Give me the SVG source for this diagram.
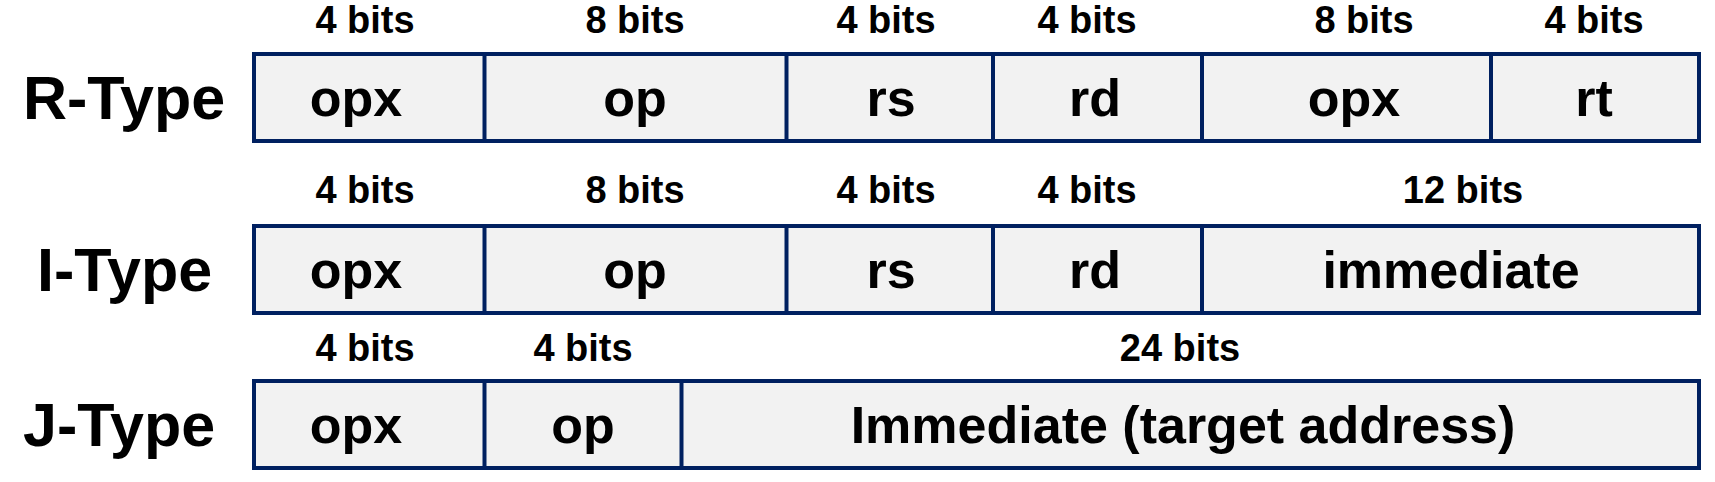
<svg xmlns="http://www.w3.org/2000/svg" width="1715" height="482" viewBox="0 0 1715 482">
<style>
.cell{fill:#f2f2f2;stroke:#002060;stroke-width:4}
.div{stroke:#002060;stroke-width:4}
.t{font-family:"Liberation Sans",Arial,sans-serif;font-weight:bold;fill:#000;text-anchor:middle}
.bits{font-size:38px}
.f{font-size:52px}
.rt{font-family:"Liberation Sans",Arial,sans-serif;font-weight:bold;fill:#000;font-size:61px}
</style>
<rect width="1715" height="482" fill="#ffffff"/>
<g id="r-type">
<text class="rt" x="23" y="119">R-Type</text>
<rect class="cell" x="254" y="54" width="1445" height="87"/>
<line class="div" x1="484.5" y1="54" x2="484.5" y2="141"/>
<line class="div" x1="786.5" y1="54" x2="786.5" y2="141"/>
<line class="div" x1="993" y1="54" x2="993" y2="141"/>
<line class="div" x1="1202" y1="54" x2="1202" y2="141"/>
<line class="div" x1="1491" y1="54" x2="1491" y2="141"/>
<text class="t bits" x="365" y="33">4 bits</text>
<text class="t bits" x="635" y="33">8 bits</text>
<text class="t bits" x="886" y="33">4 bits</text>
<text class="t bits" x="1087" y="33">4 bits</text>
<text class="t bits" x="1364" y="33">8 bits</text>
<text class="t bits" x="1594" y="33">4 bits</text>
<text class="t f" x="356" y="116">opx</text>
<text class="t f" x="635" y="116">op</text>
<text class="t f" x="891" y="116">rs</text>
<text class="t f" x="1095" y="116">rd</text>
<text class="t f" x="1354" y="116">opx</text>
<text class="t f" x="1594" y="116">rt</text>
</g>
<g id="i-type">
<text class="rt" x="37" y="291">I-Type</text>
<rect class="cell" x="254" y="226" width="1445" height="87"/>
<line class="div" x1="484.5" y1="226" x2="484.5" y2="313"/>
<line class="div" x1="786.5" y1="226" x2="786.5" y2="313"/>
<line class="div" x1="993" y1="226" x2="993" y2="313"/>
<line class="div" x1="1202" y1="226" x2="1202" y2="313"/>
<text class="t bits" x="365" y="203">4 bits</text>
<text class="t bits" x="635" y="203">8 bits</text>
<text class="t bits" x="886" y="203">4 bits</text>
<text class="t bits" x="1087" y="203">4 bits</text>
<text class="t bits" x="1463" y="203">12 bits</text>
<text class="t f" x="356" y="288">opx</text>
<text class="t f" x="635" y="288">op</text>
<text class="t f" x="891" y="288">rs</text>
<text class="t f" x="1095" y="288">rd</text>
<text class="t f" x="1451" y="288">immediate</text>
</g>
<g id="j-type">
<text class="rt" x="23" y="446">J-Type</text>
<rect class="cell" x="254" y="381" width="1445" height="87"/>
<line class="div" x1="484.5" y1="381" x2="484.5" y2="468"/>
<line class="div" x1="681.5" y1="381" x2="681.5" y2="468"/>
<text class="t bits" x="365" y="361">4 bits</text>
<text class="t bits" x="583" y="361">4 bits</text>
<text class="t bits" x="1180" y="361">24 bits</text>
<text class="t f" x="356" y="443">opx</text>
<text class="t f" x="583" y="443">op</text>
<text class="t f" x="1183" y="443">Immediate (target address)</text>
</g>
<g id="connectors"/>
</svg>
